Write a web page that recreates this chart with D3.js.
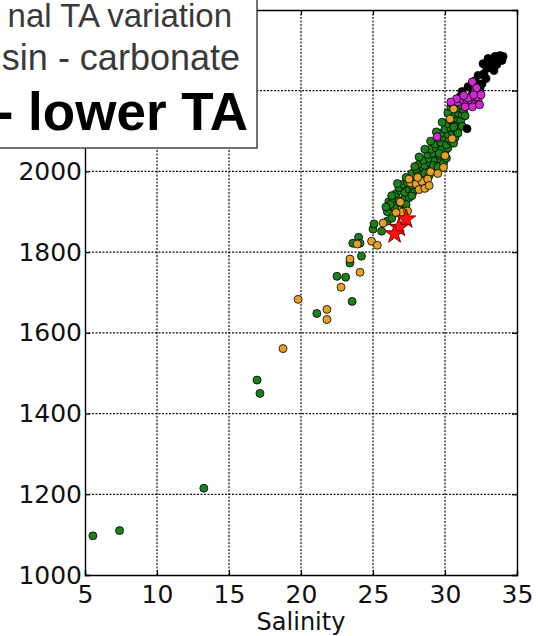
<!DOCTYPE html>
<html>
<head>
<meta charset="utf-8">
<script src="https://cdn.jsdelivr.net/npm/d3@7"></script>
<style>
  html, body { margin: 0; padding: 0; background: #fff; }
  svg { display: block; }
</style>
</head>
<body>
<svg id="chart" width="538" height="636"></svg>
<script>
// ---- Data (salinity, total alkalinity) ----
const xTicks = [5, 10, 15, 20, 25, 30, 35];
const yTicks = [1000, 1200, 1400, 1600, 1800, 2000, 2200];
const xLabel = "Salinity";
const titleLines = ["nal TA variation", "sin - carbonate", "- lower TA"];

const greenPts = [
  [5.55,1097],[7.4,1110],[13.25,1215],[16.95,1483],[17.15,1450],
  [21.1,1648],[23.55,1678],[22.5,1740],[23.1,1738],[23.4,1773],[24.2,1790],
  [23.6,1822],[24.0,1837],[24.1,1822],[25.0,1857],[25.07,1870],[25.6,1852],
  [26.0,1877],[26.3,1884],[26.5,1909],[26.1,1925],[26.4,1930],[26.8,1928],[27.2,1932],[26.2,1918],[27.5,1935],
  [26.0,1900],[25.9,1912],[27.0,1920],[27.3,1918],
  [26.6,1945],[26.9,1952],[27.2,1948],[27.5,1956],[26.8,1960],[27.8,1950],[26.3,1940],[27.7,1940],[27.9,1956],
  [27.1,1968],[27.4,1972],[27.7,1966],[28.0,1975],[27.6,1982],[28.3,1980],[27.9,1988],[28.7,1985],[26.7,1970],[28.2,1960],[28.3,1962],
  [27.7,1995],[28.1,1998],[28.4,1992],[28.8,2000],[28.0,2006],[28.5,2008],[29.1,2003],[27.3,1985],[28.6,1995],[28.9,1990],
  [28.2,2018],[28.6,2015],[29.0,2020],[28.5,2028],[28.9,2032],[29.3,2026],[29.7,2030],[27.9,2012],[29.2,2015],[29.5,2012],[29.9,2020],
  [28.8,2042],[29.2,2045],[29.6,2040],[30.0,2048],[29.0,2055],[29.4,2058],[29.8,2055],[28.2,2036],[28.6,2055],[29.6,2045],[30.1,2033],[30.2,2058],
  [29.3,2068],[29.7,2072],[30.1,2066],[30.4,2075],[29.5,2082],[29.9,2085],[30.3,2080],[30.7,2084],[29.0,2075],[30.6,2070],
  [29.8,2095],[30.2,2092],[30.5,2098],[30.0,2105],[30.4,2108],[30.8,2102],[29.4,2098],[30.9,2095],
  [30.2,2118],[30.6,2115],[30.9,2122],[30.4,2128],[30.8,2132],[31.1,2126],[29.8,2122],[31.2,2112],[30.6,2110],
  [30.6,2142],[30.9,2145],[31.2,2140],[30.7,2155],[31.0,2158],[31.3,2152],[30.2,2145],[31.4,2138],[30.4,2160],
  [30.5,2168],[30.8,2172],[31.1,2165]
];

const orangePts = [
  [18.75,1561],[19.8,1683],[21.8,1658],[21.8,1633],[22.78,1713],[24.1,1750],
  [23.4,1783],[23.9,1820],[24.9,1827],[25.3,1817],[25.7,1872],
  [27.0,1899],[27.4,1902],[26.9,1924],[26.6,1898],[27.6,1972],[28.0,1969],
  [28.4,1975],[28.8,1981],[29.0,1999],[27.5,1981],[28.1,1985],
  [28.2,1955],[28.6,1958],[28.9,1965],[29.5,1995],[29.9,2010],
  [30.0,2039],[30.5,2081],[30.35,2130],[30.6,2155]
];

const blackPts = [
  [31.53,2106],[31.04,2185],[31.18,2198],[31.6,2210],[31.9,2193],[32.08,2225],
  [32.3,2238],[32.57,2217],[32.7,2242],[32.9,2255],[32.64,2267],[33.13,2260],
  [33.26,2275],[32.99,2280],[33.47,2285],[33.68,2280],[33.82,2287],[33.96,2275],
  [33.6,2265],[33.4,2250],[32.85,2230],[32.43,2205],[32.15,2180],[31.74,2170],[34.03,2285]
];

const magentaPts = [
  [29.45,2086],[30.9,2172],[31.2,2178],[31.5,2170],[31.8,2175],[32.1,2168],
  [32.3,2178],[31.4,2160],[31.9,2160],[32.2,2185],[31.9,2222],[32.1,2200],
  [32.2,2207],[31.6,2182],[30.8,2180],[31.3,2188],[32.0,2190],[32.4,2165],
  [30.4,2172],[32.5,2190]
];

const starPts = [[27.3,1882],[26.8,1861],[26.5,1845]];

// ---- Layout ----
const svg = d3.select("#chart");
const m = { left: 85, top: 10, right: 21, bottom: 61 };
const W = 538 - m.left - m.right;
const H = 636 - m.top - m.bottom;

const x = d3.scaleLinear().domain([5, 35]).range([0, W]);
const y = d3.scaleLinear().domain([1000, 2400]).range([H, 0]);

const g = svg.append("g").attr("transform", `translate(${m.left},${m.top})`);

// grid
g.append("g").selectAll("line").data(xTicks.slice(1, -1)).join("line")
  .attr("x1", d => x(d)).attr("x2", d => x(d)).attr("y1", 0).attr("y2", H)
  .attr("stroke", "#111").attr("stroke-width", 1.2).attr("stroke-dasharray", "2,1.5");
g.append("g").selectAll("line").data(yTicks.slice(1)).join("line")
  .attr("y1", d => y(d)).attr("y2", d => y(d)).attr("x1", 0).attr("x2", W)
  .attr("stroke", "#111").attr("stroke-width", 1.2).attr("stroke-dasharray", "2,1.5");

// axes (inward ticks)
const tickFont = "'DejaVu Sans', sans-serif";
const xAxis = g.append("g").attr("transform", `translate(0,${H})`)
  .call(d3.axisBottom(x).tickValues(xTicks).tickSize(-5).tickPadding(10).tickFormat(d3.format("d")));
const yAxis = g.append("g")
  .call(d3.axisLeft(y).tickValues(yTicks).tickSize(-5).tickPadding(3).tickFormat(d3.format("d")));
g.append("g")
  .call(d3.axisTop(x).tickValues(xTicks).tickSize(-5).tickFormat(""));
g.append("g").attr("transform", `translate(${W},0)`)
  .call(d3.axisRight(y).tickValues(yTicks).tickSize(-5).tickFormat(""));

svg.selectAll(".domain").attr("stroke", "#000").attr("stroke-width", 1.4);
svg.selectAll(".tick line").attr("stroke", "#000").attr("stroke-width", 1.2);
xAxis.selectAll("text").attr("font-family", tickFont).attr("font-size", 25).attr("fill", "#111");
yAxis.selectAll("text").attr("font-family", tickFont).attr("font-size", 25).attr("fill", "#111");

// axis label
svg.append("text").attr("x", m.left + W / 2).attr("y", 630)
  .attr("text-anchor", "middle").attr("font-family", tickFont).attr("font-size", 24)
  .attr("fill", "#111").text(xLabel);

// points
function dots(data, fill) {
  g.append("g").selectAll("circle").data(data).join("circle")
    .attr("cx", d => x(d[0])).attr("cy", d => y(d[1])).attr("r", 4)
    .attr("fill", fill).attr("stroke", "#000").attr("stroke-width", 0.8);
}
dots(greenPts, "#1d7f1d");
dots(orangePts, "#e2a128");
dots(blackPts, "#000");
dots(magentaPts, "#d12ad1");

g.append("g").selectAll("path").data(starPts).join("path")
  .attr("d", d3.symbol().type(d3.symbolStar).size(115))
  .attr("transform", d => `translate(${x(d[0])},${y(d[1])})`)
  .attr("fill", "#ff1010").attr("stroke", "#7a0000").attr("stroke-width", 1);

// title box
svg.append("rect").attr("x", -3).attr("y", -3).attr("width", 260).attr("height", 151)
  .attr("fill", "#fff").attr("stroke", "#444").attr("stroke-width", 1.5);
const tf = "'Liberation Sans', Arial, sans-serif";
svg.append("text").attr("x", 232).attr("y", 27).attr("text-anchor", "end")
  .attr("font-family", tf).attr("font-size", 33).attr("fill", "#3a3a3a").text(titleLines[0]);
svg.append("text").attr("x", 240).attr("y", 70).attr("text-anchor", "end")
  .attr("font-family", tf).attr("font-size", 36).attr("fill", "#3a3a3a").text(titleLines[1]);
svg.append("text").attr("x", 248).attr("y", 130).attr("text-anchor", "end")
  .attr("font-family", tf).attr("font-size", 53).attr("font-weight", "bold").attr("fill", "#000").text(titleLines[2]);
</script>
</body>
</html>
